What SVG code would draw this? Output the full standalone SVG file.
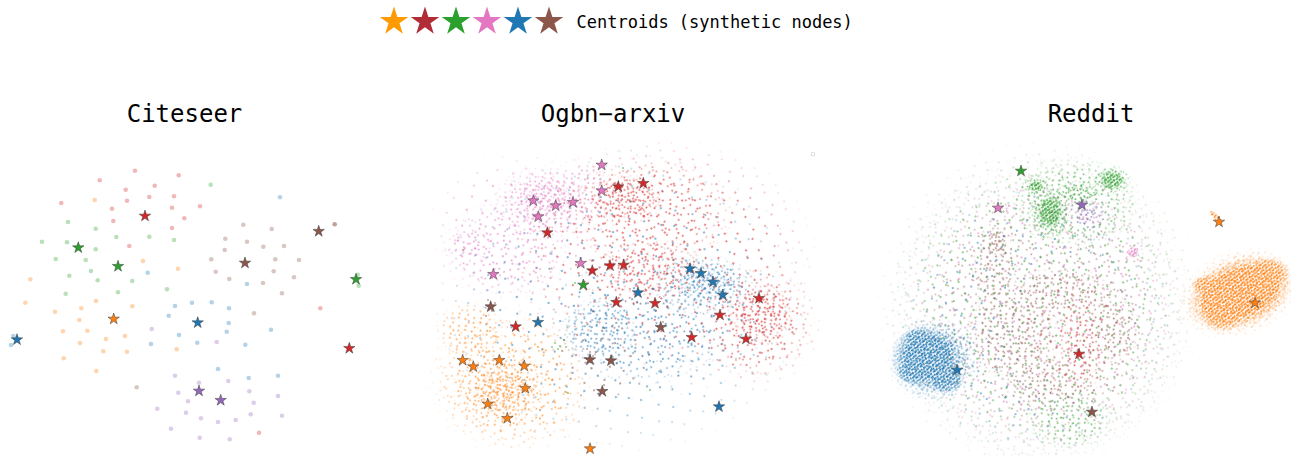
<svg xmlns="http://www.w3.org/2000/svg" width="1291" height="456" viewBox="0 0 1291 456">
<style>
.R{fill:#d62728}.O{fill:#ff7f0e}.G{fill:#2ca02c}.B{fill:#1f77b4}.N{fill:#8c564b}.P{fill:#9467bd}.K{fill:#e377c2}
.gR{fill:url(#gR)}.gO{fill:url(#gO)}.gG{fill:url(#gG)}.gB{fill:url(#gB)}.gN{fill:url(#gN)}.gP{fill:url(#gP)}.gK{fill:url(#gK)}
.s{stroke:#3a3a3a;stroke-width:.5}
.t{font-family:"DejaVu Sans Mono","Liberation Mono",monospace;fill:#000}
</style>
<defs>
<path id="st" d="M0,-6L1.35,-1.85L5.71,-1.85L2.18,0.71L3.53,4.85L0,2.29L-3.53,4.85L-2.18,0.71L-5.71,-1.85L-1.35,-1.85Z"/>
<path id="stL" d="M0,-15L3.37,-4.64L14.27,-4.64L5.45,1.77L8.82,12.14L0,5.73L-8.82,12.14L-5.45,1.77L-14.27,-4.64L-3.37,-4.64Z"/>
<radialGradient id="gR"><stop offset="0" stop-color="#d62728"/><stop offset=".6" stop-color="#d62728" stop-opacity=".9"/><stop offset="1" stop-color="#d62728" stop-opacity="0"/></radialGradient>
<radialGradient id="gO"><stop offset="0" stop-color="#ff7f0e"/><stop offset=".6" stop-color="#ff7f0e" stop-opacity=".9"/><stop offset="1" stop-color="#ff7f0e" stop-opacity="0"/></radialGradient>
<radialGradient id="gG"><stop offset="0" stop-color="#2ca02c"/><stop offset=".6" stop-color="#2ca02c" stop-opacity=".9"/><stop offset="1" stop-color="#2ca02c" stop-opacity="0"/></radialGradient>
<radialGradient id="gB"><stop offset="0" stop-color="#1f77b4"/><stop offset=".6" stop-color="#1f77b4" stop-opacity=".9"/><stop offset="1" stop-color="#1f77b4" stop-opacity="0"/></radialGradient>
<radialGradient id="gN"><stop offset="0" stop-color="#8c564b"/><stop offset=".6" stop-color="#8c564b" stop-opacity=".9"/><stop offset="1" stop-color="#8c564b" stop-opacity="0"/></radialGradient>
<radialGradient id="gP"><stop offset="0" stop-color="#9467bd"/><stop offset=".6" stop-color="#9467bd" stop-opacity=".9"/><stop offset="1" stop-color="#9467bd" stop-opacity="0"/></radialGradient>
<radialGradient id="gK"><stop offset="0" stop-color="#e377c2"/><stop offset=".6" stop-color="#e377c2" stop-opacity=".9"/><stop offset="1" stop-color="#e377c2" stop-opacity="0"/></radialGradient>
<pattern id="pa" patternUnits="userSpaceOnUse" width="11" height="9" patternTransform="rotate(13)"><g fill="#fff"><circle cx="1.2" cy="1.8" r=".9"/><circle cx="6.4" cy=".9" r=".9"/><circle cx="9.3" cy="4.6" r=".9"/><circle cx="3.7" cy="6.2" r=".9"/><circle cx="7.9" cy="7.8" r=".9"/><circle cx=".4" cy="5.1" r=".9"/></g></pattern>
<pattern id="pb" patternUnits="userSpaceOnUse" width="17" height="14" patternTransform="rotate(-27)"><g fill="#fff"><circle cx="2.3" cy="3.1" r=".9"/><circle cx="9.6" cy="1.2" r=".9"/><circle cx="14.8" cy="5.5" r=".9"/><circle cx="6.1" cy="8.7" r=".9"/><circle cx="12.2" cy="11.9" r=".9"/><circle cx="3.4" cy="12.6" r=".9"/><circle cx="16.1" cy="10.2" r=".9"/></g></pattern>
<pattern id="pc" patternUnits="userSpaceOnUse" width="23" height="19" patternTransform="rotate(38)"><g fill="#fff"><circle cx="3.2" cy="2.4" r=".9"/><circle cx="11.5" cy="4.1" r=".9"/><circle cx="19.7" cy="1.6" r=".9"/><circle cx="7.3" cy="10.8" r=".9"/><circle cx="16.2" cy="12.5" r=".9"/><circle cx="1.8" cy="15.9" r=".9"/><circle cx="21.4" cy="17.2" r=".9"/><circle cx="12.6" cy="17.9" r=".9"/></g></pattern>
<pattern id="pd" patternUnits="userSpaceOnUse" width="31" height="27" patternTransform="rotate(-52)"><g fill="#fff"><circle cx="4" cy="6" r=".9"/><circle cx="17" cy="3" r=".9"/><circle cx="27" cy="11" r=".9"/><circle cx="9" cy="19" r=".9"/><circle cx="22" cy="23" r=".9"/><circle cx="14" cy="13" r=".9"/></g></pattern>
<pattern id="pe" patternUnits="userSpaceOnUse" width="7" height="6" patternTransform="rotate(21)"><g fill="#fff"><circle cx=".8" cy="1.1" r="1"/><circle cx="3.9" cy=".6" r="1"/><circle cx="5.9" cy="2.9" r="1"/><circle cx="2.4" cy="3.6" r="1"/><circle cx="4.7" cy="5.2" r="1"/><circle cx="1.1" cy="5.4" r=".9"/></g></pattern>
<pattern id="pf" patternUnits="userSpaceOnUse" width="13" height="16" patternTransform="rotate(64)"><g fill="#fff"><circle cx="2.5" cy="2" r=".9"/><circle cx="9" cy="4.5" r=".9"/><circle cx="5" cy="9.5" r=".9"/><circle cx="11.5" cy="12" r=".9"/><circle cx="1" cy="14" r=".9"/></g></pattern>
<pattern id="pg" patternUnits="userSpaceOnUse" width="37" height="33" patternTransform="rotate(71)"><g fill="#fff"><circle cx="5" cy="4" r=".9"/><circle cx="21" cy="9" r=".9"/><circle cx="32" cy="19" r=".9"/><circle cx="12" cy="24" r=".9"/><circle cx="26" cy="30" r=".9"/></g></pattern>
<pattern id="ph" patternUnits="userSpaceOnUse" width="41" height="29" patternTransform="rotate(-17)"><g fill="#fff"><circle cx="7" cy="3" r=".9"/><circle cx="25" cy="7" r=".9"/><circle cx="37" cy="15" r=".9"/><circle cx="16" cy="18" r=".9"/><circle cx="3" cy="25" r=".9"/><circle cx="30" cy="26" r=".9"/></g></pattern>
<mask id="ma" maskUnits="userSpaceOnUse" x="0" y="0" width="1291" height="456"><rect width="1291" height="456" fill="url(#pa)"/></mask>
<mask id="mb" maskUnits="userSpaceOnUse" x="0" y="0" width="1291" height="456"><rect width="1291" height="456" fill="url(#pb)"/></mask>
<mask id="mc" maskUnits="userSpaceOnUse" x="0" y="0" width="1291" height="456"><rect width="1291" height="456" fill="url(#pc)"/></mask>
<mask id="md" maskUnits="userSpaceOnUse" x="0" y="0" width="1291" height="456"><rect width="1291" height="456" fill="url(#pd)"/></mask>
<mask id="me" maskUnits="userSpaceOnUse" x="0" y="0" width="1291" height="456"><rect width="1291" height="456" fill="url(#pe)"/></mask>
<mask id="mf" maskUnits="userSpaceOnUse" x="0" y="0" width="1291" height="456"><rect width="1291" height="456" fill="url(#pf)"/></mask>
<mask id="mg" maskUnits="userSpaceOnUse" x="0" y="0" width="1291" height="456"><rect width="1291" height="456" fill="url(#pg)"/></mask>
<mask id="mh" maskUnits="userSpaceOnUse" x="0" y="0" width="1291" height="456"><rect width="1291" height="456" fill="url(#ph)"/></mask>
</defs>
<rect width="1291" height="456" fill="#fff"/>

<g id="legend">
<use href="#stL" x="394" y="21.6" fill="#ff9a00"/>
<use href="#stL" x="425" y="21.6" fill="#b02d38"/>
<use href="#stL" x="456" y="21.6" fill="#2ca02c"/>
<use href="#stL" x="487" y="21.6" fill="#e377c2"/>
<use href="#stL" x="518" y="21.6" fill="#1f77b4"/>
<use href="#stL" x="549" y="21.6" fill="#8c564b"/>
<text class="t" x="576.5" y="28.3" font-size="17">Centroids (synthetic nodes)</text>
</g>

<g id="citeseer">
<text class="t" x="184.5" y="122" font-size="24" text-anchor="middle">Citeseer</text>
<g fill-opacity=".33">
<circle class="R" cx="135" cy="170.7" r="2.3"/><circle class="R" cx="178.7" cy="175.3" r="2.3"/><circle class="R" cx="99.7" cy="180.3" r="2.3"/><circle class="R" cx="154.7" cy="185.7" r="2.3"/><circle class="R" cx="125.7" cy="189.7" r="2.3"/><circle class="R" cx="149.3" cy="197" r="2.3"/><circle class="R" cx="174" cy="196.3" r="2.3"/><circle class="R" cx="127" cy="200.7" r="2.3"/><circle class="R" cx="61.3" cy="203" r="2.3"/><circle class="R" cx="112" cy="208.7" r="2.3"/><circle class="R" cx="172" cy="207.7" r="2.3"/><circle class="R" cx="200" cy="206.3" r="2.3"/><circle class="R" cx="113.3" cy="221" r="2.3"/><circle class="R" cx="184.3" cy="218.3" r="2.3"/><circle class="R" cx="172" cy="228" r="2.3"/><circle class="R" cx="129.3" cy="246" r="2.3"/><circle class="R" cx="320.3" cy="308.3" r="2.3"/><circle class="R" cx="259" cy="432.7" r="2.3"/>
<circle class="O" cx="94.7" cy="200" r="2.3"/><circle class="O" cx="143" cy="261" r="2.3"/><circle class="O" cx="178" cy="268.7" r="2.3"/><circle class="O" cx="30.3" cy="279.3" r="2.3"/><circle class="O" cx="25.3" cy="302.7" r="2.3"/><circle class="O" cx="96" cy="301" r="2.3"/><circle class="O" cx="132.3" cy="306.3" r="2.3"/><circle class="O" cx="81.3" cy="308.3" r="2.3"/><circle class="O" cx="55" cy="311.7" r="2.3"/><circle class="O" cx="79.3" cy="320" r="2.3"/><circle class="O" cx="87.3" cy="330.7" r="2.3"/><circle class="O" cx="63" cy="331.3" r="2.3"/><circle class="O" cx="125" cy="336" r="2.3"/><circle class="O" cx="106" cy="339" r="2.3"/><circle class="O" cx="80" cy="343" r="2.3"/><circle class="O" cx="103.3" cy="351.3" r="2.3"/><circle class="O" cx="127" cy="351.7" r="2.3"/><circle class="O" cx="176.7" cy="349.3" r="2.3"/><circle class="O" cx="63.7" cy="358.3" r="2.3"/><circle class="O" cx="96.3" cy="371" r="2.3"/>
<circle class="G" cx="210.7" cy="184.7" r="2.3"/><circle class="G" cx="68" cy="222" r="2.3"/><circle class="G" cx="95.7" cy="228.7" r="2.3"/><circle class="G" cx="42" cy="241.7" r="2.3"/><circle class="G" cx="67" cy="242.3" r="2.3"/><circle class="G" cx="116.3" cy="237" r="2.3"/><circle class="G" cx="149.3" cy="236.7" r="2.3"/><circle class="G" cx="174" cy="240" r="2.3"/><circle class="G" cx="95.7" cy="249.3" r="2.3"/><circle class="G" cx="55.7" cy="259" r="2.3"/><circle class="G" cx="85.7" cy="260" r="2.3"/><circle class="G" cx="91" cy="271" r="2.3"/><circle class="G" cx="69.3" cy="275.7" r="2.3"/><circle class="G" cx="97.7" cy="280.3" r="2.3"/><circle class="G" cx="132.3" cy="281" r="2.3"/><circle class="G" cx="167" cy="289.3" r="2.3"/><circle class="G" cx="118" cy="292.3" r="2.3"/><circle class="G" cx="65.7" cy="293.7" r="2.3"/><circle class="G" cx="357.7" cy="274.7" r="2.3"/><circle class="G" cx="358.7" cy="285.7" r="2.3"/>
<circle class="B" cx="280" cy="197.3" r="2.3"/><circle class="B" cx="147.7" cy="272.7" r="2.3"/><circle class="B" cx="247" cy="284" r="2.3"/><circle class="B" cx="175" cy="306" r="2.3"/><circle class="B" cx="192" cy="302.7" r="2.3"/><circle class="B" cx="211.7" cy="302.3" r="2.3"/><circle class="B" cx="229" cy="308.3" r="2.3"/><circle class="B" cx="168.7" cy="315.7" r="2.3"/><circle class="B" cx="228.7" cy="323" r="2.3"/><circle class="B" cx="226.7" cy="331.7" r="2.3"/><circle class="B" cx="271" cy="329.7" r="2.3"/><circle class="B" cx="179" cy="335" r="2.3"/><circle class="B" cx="151" cy="344" r="2.3"/><circle class="B" cx="197.3" cy="342.7" r="2.3"/><circle class="B" cx="245.3" cy="344.7" r="2.3"/><circle class="B" cx="13.3" cy="336" r="2.3"/><circle class="B" cx="11" cy="345" r="2.3"/><circle class="B" cx="218" cy="369" r="2.3"/><circle class="B" cx="248.7" cy="378" r="2.3"/><circle class="B" cx="278" cy="375.7" r="2.3"/>
<circle class="N" cx="243.3" cy="224.7" r="2.3"/><circle class="N" cx="271.7" cy="229" r="2.3"/><circle class="N" cx="334.7" cy="224.3" r="2.3" fill-opacity=".55"/><circle class="N" cx="225.3" cy="238.7" r="2.3"/><circle class="N" cx="247" cy="241.7" r="2.3"/><circle class="N" cx="263.3" cy="246.7" r="2.3"/><circle class="N" cx="284" cy="246" r="2.3"/><circle class="N" cx="224.7" cy="250" r="2.3"/><circle class="N" cx="211.3" cy="259.3" r="2.3"/><circle class="N" cx="275.3" cy="259.3" r="2.3"/><circle class="N" cx="299" cy="260" r="2.3"/><circle class="N" cx="215.7" cy="271.7" r="2.3"/><circle class="N" cx="273.7" cy="271.3" r="2.3"/><circle class="N" cx="229.3" cy="279" r="2.3"/><circle class="N" cx="263" cy="283" r="2.3"/><circle class="N" cx="294" cy="277.3" r="2.3"/><circle class="N" cx="282" cy="293.3" r="2.3"/><circle class="N" cx="254" cy="313.3" r="2.3"/><circle class="N" cx="136.7" cy="387.3" r="2.3"/>
<circle class="P" cx="151.7" cy="329" r="2.3"/><circle class="P" cx="216.7" cy="342" r="2.3"/><circle class="P" cx="175" cy="375.7" r="2.3"/><circle class="P" cx="199" cy="382.7" r="2.3"/><circle class="P" cx="228.3" cy="381" r="2.3"/><circle class="P" cx="178.3" cy="392.7" r="2.3"/><circle class="P" cx="249.3" cy="391.3" r="2.3"/><circle class="P" cx="188" cy="401.3" r="2.3"/><circle class="P" cx="278" cy="396" r="2.3"/><circle class="P" cx="253.7" cy="402.7" r="2.3"/><circle class="P" cx="157.3" cy="408.7" r="2.3"/><circle class="P" cx="186" cy="412.7" r="2.3"/><circle class="P" cx="250.7" cy="414.3" r="2.3"/><circle class="P" cx="201" cy="418.3" r="2.3"/><circle class="P" cx="218" cy="422" r="2.3"/><circle class="P" cx="235.7" cy="420" r="2.3"/><circle class="P" cx="282" cy="415.7" r="2.3"/><circle class="P" cx="171" cy="428.7" r="2.3"/><circle class="P" cx="199.7" cy="437.7" r="2.3"/><circle class="P" cx="229.7" cy="439.3" r="2.3"/>
</g>
<use href="#st" class="s R" x="145" y="216"/><use href="#st" class="s R" x="349.3" y="348.3"/>
<use href="#st" class="s O" x="113.7" y="319"/>
<use href="#st" class="s G" x="78.3" y="247.7"/><use href="#st" class="s G" x="118" y="266.3"/><use href="#st" class="s G" x="356" y="279.3"/>
<use href="#st" class="s B" x="197.7" y="322.7"/><use href="#st" class="s B" x="17" y="339.7"/>
<use href="#st" class="s N" x="318.7" y="231.3"/><use href="#st" class="s N" x="245" y="263"/>
<use href="#st" class="s P" x="199" y="391"/><use href="#st" class="s P" x="220.7" y="400.3"/>
</g>

<g id="ogbn-arxiv">
<text class="t" x="613" y="121.5" font-size="24" text-anchor="middle">Ogbn−arxiv</text>
<rect x="811.3" y="152.8" width="3" height="3" fill="none" stroke="#ccc" stroke-width=".6"/>
<g mask="url(#mg)" opacity=".85">
<ellipse class="gB" cx="620" cy="300" rx="195" ry="158"/>
</g>
<g mask="url(#md)" opacity=".85">
<ellipse class="gR" cx="660" cy="255" rx="160" ry="120"/>
<ellipse class="gR" cx="752" cy="325" rx="72" ry="65"/>
</g>
<g mask="url(#mh)" opacity=".85">
<ellipse class="gB" cx="655" cy="320" rx="120" ry="80"/>
<ellipse class="gO" cx="515" cy="380" rx="92" ry="78"/>
<ellipse class="gK" cx="520" cy="225" rx="95" ry="75"/>
<ellipse class="gN" cx="600" cy="360" rx="60" ry="50"/>
</g>
<g mask="url(#mc)" opacity=".8">
<ellipse class="gR" cx="648" cy="212" rx="90" ry="58"/>
<ellipse class="gR" cx="755" cy="322" rx="62" ry="58"/>
<ellipse class="gB" cx="640" cy="335" rx="90" ry="52"/>
<ellipse class="gK" cx="505" cy="250" rx="68" ry="52"/>
<ellipse class="gO" cx="512" cy="382" rx="85" ry="70"/>
<ellipse class="gR" cx="640" cy="275" rx="65" ry="35"/>
</g>
<g mask="url(#mb)" opacity=".8">
<ellipse class="gR" cx="622" cy="200" rx="42" ry="28"/>
<ellipse class="gR" cx="762" cy="312" rx="34" ry="30"/>
<ellipse class="gB" cx="703" cy="285" rx="55" ry="32"/>
<ellipse class="gK" cx="548" cy="203" rx="60" ry="40"/>
<ellipse class="gK" cx="585" cy="176" rx="20" ry="13"/>
<ellipse class="gO" cx="500" cy="388" rx="50" ry="44"/>
<ellipse class="gO" cx="470" cy="330" rx="36" ry="30"/>
<ellipse class="gB" cx="600" cy="330" rx="40" ry="34"/>
</g>
<g mask="url(#mf)" opacity=".75">
<ellipse class="gR" cx="652" cy="268" rx="55" ry="30"/>
<ellipse class="gR" cx="760" cy="318" rx="34" ry="32"/>
<ellipse class="gB" cx="710" cy="283" rx="36" ry="20"/>
<ellipse class="gK" cx="545" cy="198" rx="42" ry="27"/>
<ellipse class="gO" cx="505" cy="390" rx="32" ry="28"/>
<ellipse class="gR" cx="628" cy="198" rx="36" ry="22"/>
<ellipse class="gK" cx="470" cy="245" rx="26" ry="20"/>
</g>
<g mask="url(#ma)" opacity=".55">
<ellipse class="gO" cx="498" cy="390" rx="26" ry="22"/>
<ellipse class="gB" cx="706" cy="283" rx="30" ry="15"/>
<ellipse class="gK" cx="548" cy="198" rx="30" ry="18"/>
</g>
<g opacity=".6">
<circle class="N" cx="488" cy="300" r=".9"/><circle class="N" cx="492" cy="311" r=".9"/><circle class="N" cx="486" cy="316" r=".9"/><circle class="N" cx="495" cy="303" r=".9"/><circle class="N" cx="590" cy="352" r=".9"/><circle class="N" cx="593" cy="356" r=".9"/><circle class="N" cx="587" cy="349" r=".9"/><circle class="N" cx="663" cy="322" r=".9"/><circle class="N" cx="657" cy="331" r=".9"/><circle class="N" cx="665" cy="336" r=".9"/><circle class="N" cx="604" cy="385" r=".9"/><circle class="N" cx="598" cy="394" r=".9"/><circle class="N" cx="585" cy="358" r=".9"/><circle class="N" cx="463" cy="250" r=".9"/><circle class="N" cx="540" cy="410" r=".9"/>
<circle class="G" cx="555" cy="343" r=".9"/><circle class="G" cx="560" cy="346" r=".9"/><circle class="G" cx="564" cy="340" r=".9"/><circle class="G" cx="558" cy="349" r=".9"/><circle class="G" cx="566" cy="347" r=".9"/><circle class="G" cx="552" cy="347" r=".9"/><circle class="G" cx="575" cy="283" r=".9"/><circle class="G" cx="568" cy="393" r=".9"/><circle class="G" cx="623" cy="168" r=".9"/><circle class="G" cx="650" cy="390" r=".9"/>
</g>
<use href="#st" class="s K" x="601.7" y="165"/><use href="#st" class="s K" x="601.7" y="190.7"/><use href="#st" class="s K" x="533.3" y="200.7"/><use href="#st" class="s K" x="555.7" y="205.7"/><use href="#st" class="s K" x="573" y="202.3"/><use href="#st" class="s K" x="538.3" y="216.7"/><use href="#st" class="s K" x="580.7" y="263.3"/><use href="#st" class="s K" x="493.3" y="274.3"/>
<use href="#st" class="s R" x="618.3" y="186.7"/><use href="#st" class="s R" x="643.3" y="183.3"/><use href="#st" class="s R" x="547.3" y="232.7"/><use href="#st" class="s R" x="592.3" y="270.7"/><use href="#st" class="s R" x="610" y="265.7"/><use href="#st" class="s R" x="623.7" y="265"/><use href="#st" class="s R" x="759" y="298.3"/><use href="#st" class="s R" x="616.3" y="302.3"/><use href="#st" class="s R" x="655" y="303.3"/><use href="#st" class="s R" x="720" y="315"/><use href="#st" class="s R" x="515.7" y="326.7"/><use href="#st" class="s R" x="691.7" y="337.3"/><use href="#st" class="s R" x="746" y="339"/>
<use href="#st" class="s B" x="690" y="268.7"/><use href="#st" class="s B" x="701" y="273.3"/><use href="#st" class="s B" x="713" y="282"/><use href="#st" class="s B" x="722.7" y="295"/><use href="#st" class="s B" x="638" y="292.7"/><use href="#st" class="s B" x="538" y="322.3"/><use href="#st" class="s B" x="719" y="406.7"/>
<use href="#st" class="s G" x="583.3" y="285"/>
<use href="#st" class="s N" x="490.7" y="306.7"/><use href="#st" class="s N" x="660.7" y="327.3"/><use href="#st" class="s N" x="590" y="359.7"/><use href="#st" class="s N" x="611" y="360.7"/><use href="#st" class="s N" x="602.3" y="391.3"/>
<use href="#st" class="s O" x="462.7" y="360.3"/><use href="#st" class="s O" x="473.3" y="366.7"/><use href="#st" class="s O" x="499.3" y="360.3"/><use href="#st" class="s O" x="524.3" y="366"/><use href="#st" class="s O" x="525.3" y="388.3"/><use href="#st" class="s O" x="487.7" y="404"/><use href="#st" class="s O" x="507.3" y="418.3"/><use href="#st" class="s O" x="590" y="448.7"/>
</g>

<g id="reddit">
<text class="t" x="1091" y="121.5" font-size="24" text-anchor="middle">Reddit</text>
<g mask="url(#mc)" opacity=".6">
<ellipse class="gN" cx="1042" cy="310" rx="155" ry="160"/>
</g>
<g mask="url(#md)" opacity=".8">
<ellipse class="gG" cx="1040" cy="302" rx="165" ry="165"/>
</g>
<g mask="url(#mg)" opacity=".8">
<ellipse class="gK" cx="1045" cy="310" rx="155" ry="155"/>
</g>
<g mask="url(#mh)" opacity=".8">
<ellipse class="gB" cx="1030" cy="320" rx="155" ry="150"/>
<ellipse class="gR" cx="1072" cy="335" rx="75" ry="85"/>
</g>
<g mask="url(#mb)" opacity=".8">
<ellipse class="gN" cx="995" cy="268" rx="24" ry="52"/>
<ellipse class="gN" cx="1062" cy="292" rx="55" ry="26"/>
<ellipse class="gN" cx="1012" cy="335" rx="50" ry="48"/>
<ellipse class="gN" cx="1050" cy="385" rx="50" ry="32"/>
<ellipse class="gN" cx="1110" cy="330" rx="32" ry="38"/>
<ellipse class="gG" cx="1075" cy="202" rx="68" ry="48"/>
<ellipse class="gP" cx="1086" cy="213" rx="28" ry="18"/>
<ellipse class="gR" cx="1080" cy="345" rx="24" ry="50"/>
<ellipse class="gK" cx="1133" cy="252" rx="12" ry="8"/>
<ellipse class="gK" cx="1008" cy="212" rx="12" ry="7"/>
<ellipse class="gB" cx="935" cy="360" rx="50" ry="46"/>
<ellipse class="gO" cx="1240" cy="293" rx="64" ry="45" transform="rotate(-20 1240 293)"/>
<ellipse class="gG" cx="1070" cy="420" rx="45" ry="32"/>
</g>
<g mask="url(#ma)" opacity=".85">
<ellipse class="gG" cx="1050" cy="213" rx="22" ry="28"/>
<ellipse class="gG" cx="1112" cy="180" rx="20" ry="15"/>
<ellipse class="gG" cx="1035" cy="186" rx="14" ry="11"/>
<ellipse class="gG" cx="1078" cy="193" rx="24" ry="13"/>
<ellipse class="gB" cx="932" cy="360" rx="44" ry="40"/>
<ellipse class="gO" cx="1240" cy="293" rx="58" ry="40" transform="rotate(-20 1240 293)"/>
<ellipse class="gN" cx="997" cy="242" rx="10" ry="15"/>
<ellipse class="gP" cx="1088" cy="215" rx="13" ry="10"/>
</g>
<g mask="url(#me)">
<ellipse class="B" cx="927" cy="356" rx="24" ry="20"/>
<ellipse class="gB" cx="927" cy="358" rx="36" ry="32"/>
<ellipse class="gB" cx="946" cy="380" rx="18" ry="14"/>
<ellipse class="gB" cx="911" cy="372" rx="15" ry="12"/>
<ellipse class="gB" cx="918" cy="338" rx="16" ry="10"/>
<ellipse class="O" cx="1240" cy="293" rx="40" ry="24" transform="rotate(-20 1240 293)"/>
<ellipse class="gO" cx="1240" cy="293" rx="54" ry="34" transform="rotate(-20 1240 293)"/>
<ellipse class="gO" cx="1268" cy="273" rx="22" ry="16"/>
<ellipse class="gO" cx="1222" cy="312" rx="22" ry="20"/>
<ellipse class="gO" cx="1205" cy="285" rx="14" ry="10"/>
<ellipse class="O" cx="1216" cy="217" rx="8" ry="2.5" transform="rotate(45 1216 217)"/>
<ellipse class="gK" cx="1133" cy="252" rx="6" ry="6"/>
<ellipse class="gG" cx="1050" cy="212" rx="13" ry="17"/>
<ellipse class="gG" cx="1112" cy="180" rx="13" ry="10"/>
<ellipse class="gG" cx="1036" cy="186" rx="8" ry="6"/>
</g>
<use href="#st" class="s G" x="1021" y="171"/>
<use href="#st" class="s K" x="998" y="208"/>
<use href="#st" class="s P" x="1082" y="205"/>
<use href="#st" class="s O" x="1219" y="222"/>
<use href="#st" class="s O" x="1255" y="303"/>
<use href="#st" class="s R" x="1079" y="354"/>
<use href="#st" class="s B" x="957" y="370"/>
<use href="#st" class="s N" x="1092" y="412"/>
</g>
</svg>
